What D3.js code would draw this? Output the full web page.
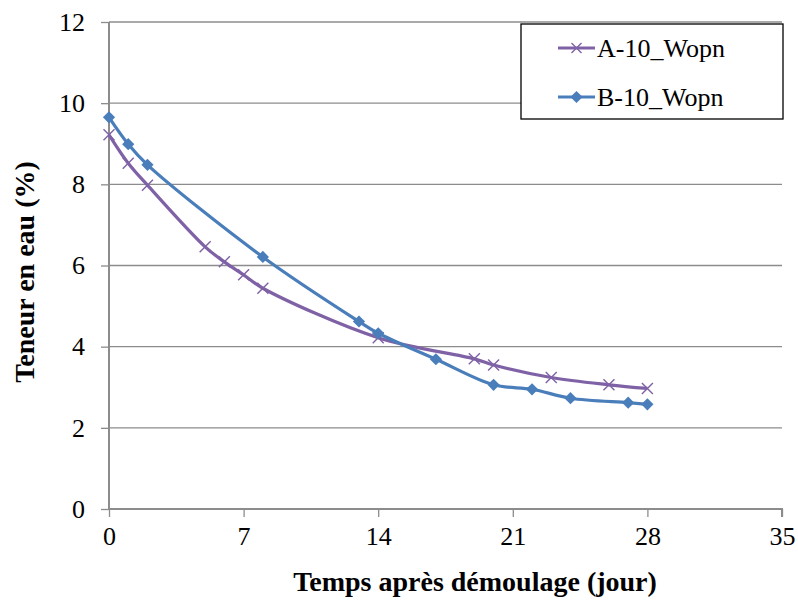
<!DOCTYPE html>
<html><head><meta charset="utf-8">
<script src="https://cdn.jsdelivr.net/npm/d3@7"></script>
<style>body{margin:0;background:#fff} svg text{font-family:"Liberation Serif","Times New Roman",serif !important}</style>
</head><body>
<svg id="c" width="798" height="605"></svg>
<script>
const daysA = [0, 1, 2, 5, 6, 7, 8, 14, 19, 20, 23, 26, 28];
const valuesA = [9.22, 8.52, 7.98, 6.46, 6.09, 5.77, 5.44, 4.22, 3.70, 3.55, 3.24, 3.06, 2.97];
const daysB = [0, 1, 2, 8, 13, 14, 17, 20, 22, 24, 27, 28];
const valuesB = [9.65, 8.99, 8.48, 6.21, 4.62, 4.33, 3.69, 3.06, 2.95, 2.73, 2.62, 2.58];
const seriesNames = ["A-10_Wopn", "B-10_Wopn"];
const xTicks = [0, 7, 14, 21, 28, 35];
const yTicks = [0, 2, 4, 6, 8, 10, 12];
const colors = ["#7F62A6", "#4A7EBB"];

const svg = d3.select("#c");
const L = 109, R = 782, T = 22, B = 509;
const x = d3.scaleLinear().domain([0, 35]).range([L, R]);
const y = d3.scaleLinear().domain([0, 12]).range([B, T]);

// gridlines
svg.append("g").selectAll("line").data(yTicks.filter(d => d > 0)).join("line")
  .attr("x1", L).attr("x2", R).attr("y1", d => y(d)).attr("y2", d => y(d))
  .attr("stroke", "#8c8c8c").attr("stroke-width", 1.3);

// axes
const xAxis = d3.axisBottom(x).tickValues(xTicks).tickSize(8).tickPadding(10).tickFormat(d3.format("d"));
const gx = svg.append("g").attr("transform", `translate(0,${B})`).call(xAxis);
const yAxis = d3.axisLeft(y).tickValues(yTicks).tickSize(8).tickPadding(16).tickFormat(d3.format("d"));
const gy = svg.append("g").attr("transform", `translate(${L},0)`).call(yAxis);
[gx, gy].forEach(g => {
  g.attr("font-family", "Liberation Serif").attr("font-size", 26);
  g.selectAll("path.domain").attr("stroke", "#8c8c8c").attr("stroke-width", 2);
  g.selectAll(".tick line").attr("stroke", "#8c8c8c").attr("stroke-width", 1.3);
  g.selectAll("text").attr("fill", "#000");
});
gx.select("path.domain").attr("d", `M${L},0H${R}V8`);
gy.select("path.domain").attr("d", `M0,${T}V${B}`);

// lines
const line = d3.line().x(d => x(d[0])).y(d => y(d[1])).curve(d3.curveCatmullRom.alpha(0.5));
const dataA = daysA.map((d, i) => [d, valuesA[i]]);
const dataB = daysB.map((d, i) => [d, valuesB[i]]);

svg.append("path").datum(dataA).attr("d", line).attr("fill", "none")
  .attr("stroke", colors[0]).attr("stroke-width", 3.2);
svg.append("path").datum(dataB).attr("d", line).attr("fill", "none")
  .attr("stroke", colors[1]).attr("stroke-width", 3.2);

const cross = (g, cx, cy, s, col) => {
  g.append("path").attr("d", `M${cx - s},${cy - s}L${cx + s},${cy + s}M${cx - s},${cy + s}L${cx + s},${cy - s}`)
    .attr("stroke", col).attr("stroke-width", 1.4).attr("fill", "none");
};
const diamond = d3.symbol().type(d3.symbolDiamond2).size(95);

const gA = svg.append("g");
dataA.forEach(d => cross(gA, x(d[0]), y(d[1]), 5.5, colors[0]));
svg.append("g").selectAll("path").data(dataB).join("path")
  .attr("d", diamond).attr("transform", d => `translate(${x(d[0])},${y(d[1])})`)
  .attr("fill", colors[1]);

// legend
const lg = svg.append("g");
lg.append("rect").attr("x", 521).attr("y", 24).attr("width", 262).attr("height", 95)
  .attr("fill", "#fff").attr("stroke", "#000").attr("stroke-width", 1.3);
[48, 97].forEach((ly, i) => {
  lg.append("line").attr("x1", 558).attr("x2", 595).attr("y1", ly).attr("y2", ly)
    .attr("stroke", colors[i]).attr("stroke-width", 3.2);
  if (i === 0) cross(lg, 576.5, ly, 5, colors[0]);
  else lg.append("path").attr("d", diamond).attr("transform", `translate(576.5,${ly})`).attr("fill", colors[1]);
  lg.append("text").attr("x", 597).attr("y", ly + 9).text(seriesNames[i])
    .attr("font-size", 26).attr("fill", "#000");
});

// titles
svg.append("text").attr("x", 475).attr("y", 591).attr("text-anchor", "middle")
  .attr("font-size", 28).attr("font-weight", "bold")
  .text("Temps après démoulage (jour)");
svg.append("text").attr("transform", "translate(34,272) rotate(-90)").attr("text-anchor", "middle")
  .attr("font-size", 28).attr("font-weight", "bold")
  .text("Teneur en eau (%)");
</script>
</body></html>
